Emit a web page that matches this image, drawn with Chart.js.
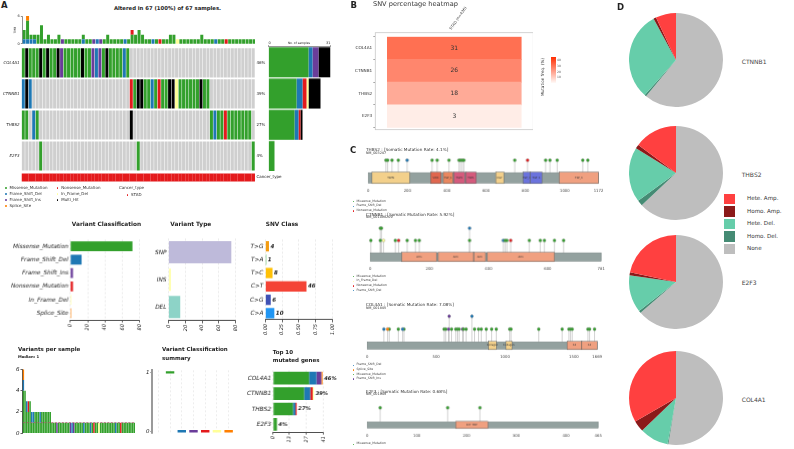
<!DOCTYPE html>
<html>
<head>
<meta charset="utf-8">
<title>Mutation overview</title>
<script src="https://cdn.jsdelivr.net/npm/chart.js@4.4.1/dist/chart.umd.min.js"></script>
<style>
  body { margin: 0; background: #fff; }
  #fig { position: relative; width: 794px; height: 449px; overflow: hidden; font-family: 'DejaVu Sans', sans-serif; color: #222; }
  #fig canvas { position: absolute; }
  .t { position: absolute; white-space: nowrap; line-height: 1; }
  .sq { position: absolute; }
</style>
</head>
<body>
<div id="fig"></div>
<script>
// ---------- data ----------
const genes = ['COL4A1', 'CTNNB1', 'THBS2', 'E2F3']
const genePct = ['46%', '39%', '27%', '4%']
const classNames = ['Missense_Mutation', 'Frame_Shift_Del', 'Frame_Shift_Ins', 'Nonsense_Mutation', 'In_Frame_Del', 'Splice_Site', 'Multi_Hit']
const classCodes = ['M', 'D', 'I', 'N', 'F', 'S', 'X']
const cancerType = 'STAD'

// oncoplot: one letter per sample, '.' = not mutated
const oncoRows = [
  'MXMMMXMXMMXIMMMMMXMMIDIMXMMMMDM' + '.'.repeat(36),
  'DXD' + '.'.repeat(28) + 'NMXXMMDMNMMXXFMMMMMMXMM' + '.'.repeat(13),
  'MM.DM' + '.'.repeat(26) + 'X' + '.'.repeat(22) + 'MDMMNMMMMMMM' + '.',
  '.'.repeat(5) + 'M' + '.'.repeat(27) + 'M' + '.'.repeat(32) + 'M'
]
// variants carried by each sample, same sample order as the oncoplot
const sampleVariants = [
  'DMM', 'DMMMMS', 'DM', 'DM', 'MM', 'MMMM', 'M', 'MM', 'M', 'M',
  'MM', 'I', 'M', 'M', 'M', 'M', 'M', 'DM', 'M', 'M',
  'I', 'D', 'I', 'M', 'MM', 'M', 'M', 'M', 'M', 'D',
  'M', 'MMN', 'MM', 'MMM', 'MM', 'M', 'M', 'D', 'M', 'N',
  'M', 'M', 'MM', 'MM', 'F', 'M', 'M', 'M', 'M', 'M',
  'M', 'MM', 'M', 'M', 'M', 'D', 'M', 'M', 'N', 'M',
  'M', 'M', 'M', 'M', 'M', 'M', 'M'
]

const vcCounts = [72, 13, 3, 3, 1, 1]
const vtLabels = ['SNP', 'INS', 'DEL']
const vtCounts = [75, 3, 14]
const snvLabels = ['T>G', 'T>A', 'T>C', 'C>T', 'C>G', 'C>A']
const snvCounts = [4, 1, 8, 46, 6, 10]

const topMissense = [29, 25, 16, 3]
const topFsDel = [6, 5, 2, 0]
const topFsIns = [4, 0, 0, 0]
const topNonsense = [0, 2, 1, 0]
const topInFrame = [0, 1, 0, 0]
const topSplice = [1, 0, 0, 0]
const topTicks = [0, 13, 27, 41]

const heatFreq = [31, 26, 18, 3]
const heatCohort = 'STAD (n=436)'

const thbs2Len = 1172
const thbs2Ticks = [0, 200, 400, 600, 800, 1000, 1172]
const thbs2Domains = [[19, 210, 'TSPN'], [317, 371, 'VWC'], [382, 431, 'TSP_1'], [436, 491, 'TSP1'], [496, 550, 'TSP1'], [649, 690, 'EGF'], [789, 823, 'TSP_3'], [826, 884, 'TSP_3'], [973, 1172, 'TSP_C']]
const thbs2Muts = [[90, 'M', 1], [99, 'M', 1], [121, 'M', 1], [153, 'M', 1], [198, 'D', 1], [325, 'M', 1], [351, 'M', 1], [411, 'M', 1], [462, 'M', 1], [470, 'M', 1], [479, 'M', 1], [487, 'M', 1], [746, 'M', 1], [811, 'N', 1], [903, 'M', 1], [925, 'M', 1], [962, 'M', 1], [1092, 'M', 1], [1118, 'M', 1]]

const ctnnb1Len = 781
const ctnnb1Ticks = [0, 200, 400, 600, 781]
const ctnnb1Domains = [[107, 224, 'Arm'], [230, 349, 'Arm'], [351, 390, 'Arm'], [396, 623, 'Arm']]
const ctnnb1Muts = [[2, 'M', 1], [34, 'M', 1], [34, 'M', 2], [38, 'M', 2], [45, 'F', 1], [85, 'M', 1], [96, 'N', 1], [125, 'M', 1], [153, 'M', 1], [166, 'M', 1], [336, 'M', 1], [336, 'D', 2], [450, 'D', 1], [456, 'M', 1], [462, 'M', 1], [475, 'N', 1], [538, 'M', 1], [575, 'M', 1], [589, 'M', 1], [623, 'M', 1], [654, 'M', 1]]

const col4a1Len = 1669
const col4a1Ticks = [0, 500, 1000, 1500, 1669]
const col4a1Domains = [[881, 937, 'Collagen'], [1007, 1051, 'Collagen'], [1451, 1558, 'C4'], [1558, 1669, 'C4']]
const col4a1Muts = [[121, 'D', 1], [148, 'S', 1], [160, 'M', 1], [226, 'M', 1], [257, 'D', 1], [267, 'M', 1], [558, 'M', 1], [570, 'M', 1], [590, 'I', 1], [595, 'I', 2], [612, 'M', 1], [643, 'M', 1], [655, 'M', 1], [667, 'M', 1], [692, 'I', 1], [699, 'M', 1], [718, 'M', 1], [760, 'D', 2], [779, 'M', 1], [808, 'M', 1], [828, 'M', 1], [864, 'M', 1], [903, 'M', 1], [937, 'M', 1], [1034, 'M', 1], [1044, 'M', 1], [1245, 'M', 1], [1415, 'M', 1], [1464, 'M', 1], [1476, 'M', 1], [1488, 'M', 1], [1602, 'M', 1], [1614, 'M', 1], [1650, 'M', 1]]

const e2f3Len = 465
const e2f3Ticks = [0, 100, 200, 300, 400, 465]
const e2f3Domains = [[178, 243, 'E2F_TDP']]
const e2f3Muts = [[26, 'M', 1], [162, 'M', 1], [227, 'M', 1]]

const lolliGenes = ['THBS2', 'CTNNB1', 'COL4A1', 'E2F3']
const lolliRates = ['4.1%', '5.92%', '7.08%', '0.68%']
const lolliRefseq = ['NM_003247', 'NM_001098209', 'NM_001845', 'NM_001949']

const cnvGenes = ['CTNNB1', 'THBS2', 'E2F3', 'COL4A1']
const cnvLabels = ['Hete. Amp.', 'Homo. Amp.', 'Hete. Del.', 'Homo. Del.', 'None']
const cnvHeteAmp = [7.0, 14.8, 21.7, 33.3]
const cnvHomoAmp = [0.9, 1.4, 1.0, 3.9]
const cnvHeteDel = [30.5, 18.9, 12.9, 9.9]
const cnvHomoDel = [0.6, 1.9, 0.8, 0.3]
const cnvNone = [61.0, 63.0, 63.6, 52.6]

// ---------- styles ----------
const classColors = ['#33a02c', '#1f78b4', '#6a3d9a', '#e31a1c', '#ffff99', '#ff7f00', '#000000']
const noneColor = '#cfcfcf'
const cancerColor = '#e41a1c'
const vtColors = ['#bebada', '#ffffb3', '#8dd3c7']
const snvColors = ['#f39c12', '#4caf50', '#ffc107', '#f44336', '#3f51b5', '#2196f3']
const cnvColors = ['#ff4040', '#8b1a1a', '#66cdaa', '#458b74', '#bebebe']
const domainColors = {TSPN: '#f3d08b', VWC: '#e0674f', TSP_1: '#e9875f', TSP1: '#d45a7c', EGF: '#f3d08b', TSP_3: '#6b73dd', TSP_C: '#f0a080', Arm: '#f0a080', Collagen: '#f3d08b', C4: '#f0a080', E2F_TDP: '#f0a080'}

Chart.defaults.font.family = "'DejaVu Sans', sans-serif"
Chart.defaults.color = '#222'
Chart.defaults.animation = false
Chart.defaults.responsive = false
Chart.defaults.maintainAspectRatio = false
Chart.defaults.events = []
Chart.defaults.plugins.legend.display = false
Chart.defaults.plugins.tooltip.enabled = false

const fig = document.getElementById('fig')

function label(str, x, y, size, o = {}) {
  const d = document.createElement('div')
  d.className = 't'
  d.textContent = str
  d.style.left = x + 'px'
  d.style.top = y + 'px'
  d.style.fontSize = size + 'px'
  if (o.bold) d.style.fontWeight = 'bold'
  if (o.italic) d.style.fontStyle = 'italic'
  if (o.color) d.style.color = o.color
  const shift = o.align === 'center' ? '-50%' : o.align === 'right' ? '-100%' : '0'
  d.style.transform = `translate(${shift},-50%)` + (o.rotate ? ` rotate(${o.rotate}deg)` : '')
  fig.appendChild(d)
}

function swatch(color, x, y, w, h, round) {
  const d = document.createElement('div')
  d.className = 'sq'
  Object.assign(d.style, {left: x + 'px', top: y + 'px', width: w + 'px', height: h + 'px', background: color, borderRadius: round ? '50%' : '0'})
  fig.appendChild(d)
}

// create a chart, then resize and move its canvas so the plot area lands on box
function chartAt(box, w, h, config) {
  config.options = config.options || {}
  config.options.devicePixelRatio = 1
  const c = document.createElement('canvas')
  c.width = w
  c.height = h
  c.style.width = w + 'px'
  c.style.height = h + 'px'
  fig.appendChild(c)
  const chart = new Chart(c, config)
  const [x0, y0, x1, y1] = box
  let a = chart.chartArea
  chart.resize(chart.width + (x1 - x0) - (a.right - a.left), chart.height + (y1 - y0) - (a.bottom - a.top))
  a = chart.chartArea
  c.style.left = (x0 - a.left) + 'px'
  c.style.top = (y0 - a.top) + 'px'
  return chart
}

function endText(labels, font, color, center) {
  return {
    id: 'endText',
    afterDatasetsDraw(chart) {
      const ctx = chart.ctx
      const meta = chart.getDatasetMeta(chart.data.datasets.length - 1)
      ctx.save()
      ctx.font = font
      ctx.fillStyle = color
      ctx.textBaseline = 'middle'
      ctx.textAlign = center ? 'center' : 'left'
      meta.data.forEach((bar, i) => {
        ctx.fillText(labels[i], center ? (bar.x + bar.base) / 2 : bar.x + 1.5, bar.y)
      })
      ctx.restore()
    }
  }
}

const countOf = (str, code) => str.split(code).length - 1
const median = arr => {
  const s = [...arr].sort((a, b) => a - b)
  return s.length % 2 ? s[(s.length - 1) / 2] : (s[s.length / 2 - 1] + s[s.length / 2]) / 2
}
const setTicks = values => s => { s.ticks = values.map(v => ({value: v})) }

const catAxis = (size, italic) => ({
  ticks: {font: {size, style: italic ? 'italic' : 'normal'}, padding: 2, autoSkip: false},
  grid: {display: false, drawTicks: false},
  border: {display: false}
})
const valueAxis = (max, ticks, fmt) => ({
  min: 0, max,
  afterBuildTicks: setTicks(ticks),
  ticks: {font: {size: 5, style: 'italic'}, minRotation: 90, maxRotation: 90, padding: 1.5, autoSkip: false, callback: fmt || (v => v)},
  grid: {color: '#dcdcdc', lineWidth: 0.6, tickColor: '#222', tickLength: 2.5, tickWidth: 0.7},
  border: {color: '#222', width: 0.8, dash: [2, 2]}
})

// ================= A: oncoplot =================
const sampleIds = sampleVariants.map((s, i) => 'S' + (i + 1))
const totals = sampleVariants.map(s => s.length)
label('A', 1, 4.5, 8.5, {bold: true})
const altered = sampleIds.filter((s, i) => oncoRows.some(r => r[i] !== '.')).length
label(`Altered in ${altered} (${Math.round(100 * altered / sampleIds.length)}%) of ${sampleIds.length} samples.`, 167.5, 8.7, 5.3, {bold: true, align: 'center'})

const tmbStack = [1, 2, 0, 3, 4, 5]
chartAt([22, 15.7, 255.5, 43.5], 260, 34, {
  type: 'bar',
  data: {
    labels: sampleIds,
    datasets: tmbStack.map(k => ({
      data: sampleVariants.map(s => countOf(s, classCodes[k])),
      backgroundColor: classColors[k], categoryPercentage: 0.86, barPercentage: 1
    }))
  },
  options: {
    scales: {
      x: {stacked: true, display: false},
      y: {
        stacked: true, min: 0, max: Math.max(...totals),
        afterBuildTicks: setTicks([0, Math.max(...totals)]),
        ticks: {font: {size: 3.5}, padding: 1},
        grid: {drawOnChartArea: false, tickLength: 1.5, color: '#222', lineWidth: 0.5},
        border: {color: '#222', width: 0.5},
        title: {display: true, text: 'TMB', font: {size: 3}, padding: 0}
      }
    }
  }
})

const nRows = genes.length
chartAt([22, 47, 255.5, 182], 300, 140, {
  type: 'bar',
  data: {
    labels: sampleIds,
    datasets: [
      ...oncoRows.map((row, i) => ({
        data: row.split('').map(() => [nRows - 1 - i + 0.03, nRows - i - 0.03]),
        backgroundColor: row.split('').map(c => c === '.' ? noneColor : classColors[classCodes.indexOf(c)]),
        grouped: false, categoryPercentage: 1, barPercentage: 0.86
      })),
      {
        data: sampleIds.map(() => [-0.32, -0.06]),
        backgroundColor: cancerColor, grouped: false, categoryPercentage: 1, barPercentage: 1.02
      }
    ]
  },
  options: {
    scales: {
      x: {display: false},
      y: {
        min: -0.35, max: nRows,
        afterBuildTicks: setTicks(genes.map((g, i) => nRows - i - 0.5)),
        ticks: {callback: (v, i) => genes[i], font: {size: 4, style: 'italic'}, padding: 2},
        grid: {display: false, drawTicks: false}, border: {display: false}
      },
      y2: {
        position: 'right', min: -0.35, max: nRows,
        afterBuildTicks: setTicks([...genes.map((g, i) => nRows - i - 0.5), -0.19]),
        ticks: {callback: (v, i) => [...genePct, 'Cancer_type'][i], font: {size: 4}, padding: 1.5},
        grid: {display: false, drawTicks: false}, border: {display: false}
      }
    }
  }
})

const geneCounts = classCodes.map(c => oncoRows.map(r => countOf(r, c)))
const maxMutated = Math.max(...oncoRows.map(r => r.length - countOf(r, '.')))
chartAt([268, 47, 330, 171], 70, 135, {
  type: 'bar',
  data: {
    labels: genes,
    datasets: classCodes.map((c, k) => ({data: geneCounts[k], backgroundColor: classColors[k], categoryPercentage: 0.96, barPercentage: 1}))
  },
  options: {
    indexAxis: 'y',
    scales: {
      y: {stacked: true, display: false},
      x: {
        stacked: true, position: 'top', min: 0, max: maxMutated,
        afterBuildTicks: setTicks([0, maxMutated]),
        ticks: {font: {size: 3.5}, padding: 0.5, align: 'inner'},
        grid: {drawOnChartArea: false, tickLength: 1.5, color: '#222', lineWidth: 0.5},
        border: {color: '#222', width: 0.5}
      }
    }
  }
})
label('No. of samples', 299, 42.7, 3, {align: 'center'})

// oncoplot legend
const legendCols = [[0, 1, 2, 5], [3, 4, 6]]
const legendX = [5, 56.7]
legendCols.forEach((col, j) => col.forEach((k, r) => {
  const y = 188.3 + r * 5.9
  swatch(classColors[k], legendX[j], y - 0.9, 1.8, 1.8, true)
  label(classNames[k], legendX[j] + 4.5, y, 4, {color: '#333'})
}))
label('Cancer_type', 119, 188.3, 4, {color: '#333'})
swatch(cancerColor, 126.5, 194.3, 1.8, 1.8, true)
label(cancerType, 131, 195.2, 4, {color: '#333'})

// ---- middle row ----
label('Variant Classification', 106.5, 225, 5.8, {bold: true, align: 'center'})
chartAt([70, 239.4, 138.5, 319], 150, 110, {
  type: 'bar',
  data: {labels: classNames.slice(0, 6), datasets: [{data: vcCounts, backgroundColor: classColors.slice(0, 6), categoryPercentage: 0.74, barPercentage: 1}]},
  options: {indexAxis: 'y', scales: {y: catAxis(5.8, true), x: valueAxis(80, [0, 20, 40, 60, 80])}}
})

label('Variant Type', 190.8, 225, 5.8, {bold: true, align: 'center'})
chartAt([169, 238.5, 236, 320], 110, 110, {
  type: 'bar',
  data: {labels: vtLabels, datasets: [{data: vtCounts, backgroundColor: vtColors, categoryPercentage: 0.81, barPercentage: 1}]},
  options: {indexAxis: 'y', scales: {y: catAxis(5.8, true), x: valueAxis(80, [0, 20, 40, 60, 80])}}
})

const snvTotal = snvCounts.reduce((a, b) => a + b, 0)
label('SNV Class', 282, 225, 5.8, {bold: true, align: 'center'})
chartAt([265, 239.5, 332, 319], 95, 110, {
  type: 'bar',
  data: {labels: snvLabels, datasets: [{data: snvCounts.map(v => v / snvTotal), backgroundColor: snvColors, categoryPercentage: 0.78, barPercentage: 1}]},
  options: {indexAxis: 'y', scales: {y: catAxis(5.8, true), x: valueAxis(1, [0, 0.25, 0.5, 0.75, 1], v => v.toFixed(2))}},
  plugins: [endText(snvCounts.map(String), "italic bold 5.5px 'DejaVu Sans'", '#222')]
})

// ---- bottom row ----
const sorted = [...sampleVariants].sort((a, b) => b.length - a.length)
const medianTotal = median(totals)
label('Variants per sample', 18, 350, 5.5, {bold: true})
label('Median: ' + medianTotal, 18, 357.3, 3.8, {bold: true})
const vpsStack = [0, 1, 2, 3, 4, 5]
chartAt([22, 369, 135, 433], 140, 75, {
  type: 'bar',
  data: {
    labels: sorted.map((s, i) => i + 1),
    datasets: [
      {type: 'line', data: sorted.map(() => medianTotal), borderColor: '#b5506f', borderWidth: 0.8, borderDash: [2, 1.5], pointRadius: 0, stack: 'median', order: -1},
      ...vpsStack.map(k => ({
        data: sorted.map(s => countOf(s, classCodes[k])),
        backgroundColor: classColors[k], categoryPercentage: 0.9, barPercentage: 1
      }))
    ]
  },
  options: {
    scales: {
      x: {stacked: true, display: false},
      y: {
        stacked: true, min: 0, max: Math.max(...totals),
        afterBuildTicks: setTicks([0, 2, 4, 6]),
        ticks: {font: {size: 5.5, style: 'italic'}, padding: 1},
        grid: {drawOnChartArea: false, tickLength: 2, color: '#222', lineWidth: 0.7},
        border: {color: '#222', width: 0.8}
      }
    }
  }
})

label('Variant Classification', 162, 350, 5.5, {bold: true})
label('summary', 162, 358.5, 5.5, {bold: true})
// per-class median of variants per sample; the leading blank slot keeps the boxes clear of the axis
const classMedians = classCodes.slice(0, 6).map(c => median(sampleVariants.map(s => countOf(s, c))))
chartAt([152, 370, 234, 433], 110, 70, {
  type: 'bar',
  data: {
    labels: ['', ...classNames.slice(0, 6)],
    datasets: [{data: [null, ...classMedians.map(m => [m - 0.02, m + 0.02])], backgroundColor: ['#fff', ...classColors.slice(0, 6)], categoryPercentage: 0.8, barPercentage: 0.9}]
  },
  options: {
    scales: {
      x: {
        ticks: {display: false},
        grid: {color: '#e2e2e2', lineWidth: 0.6, drawTicks: false, offset: false},
        border: {display: false, dash: [2, 2]}
      },
      y: {
        min: -0.034, max: 1.034,
        afterBuildTicks: setTicks([0, 1]),
        ticks: {font: {size: 5.5, style: 'italic'}, padding: 1},
        grid: {drawOnChartArea: false, tickLength: 2, color: '#222', lineWidth: 0.7},
        border: {color: '#9a9a9a', width: 2}
      }
    }
  }
})

label('Top 10', 272.7, 352.7, 5.5, {bold: true})
label('mutated genes', 272.7, 361, 5.5, {bold: true})
const topSets = [topMissense, topFsDel, topFsIns, topNonsense, topInFrame, topSplice]
chartAt([272.7, 370.3, 322.7, 432], 95, 80, {
  type: 'bar',
  data: {labels: genes, datasets: topSets.map((d, k) => ({data: d, backgroundColor: classColors[k], categoryPercentage: 0.82, barPercentage: 1}))},
  options: {
    indexAxis: 'y',
    layout: {padding: {right: 14}},
    scales: {
      y: {stacked: true, ...catAxis(5.8, true)},
      x: {stacked: true, ...valueAxis(41, topTicks)}
    }
  },
  plugins: [endText(genePct, "italic bold 5.2px 'DejaVu Sans'", '#222')]
})

// ================= B: SNV heatmap =================
label('B', 350.5, 5, 8.5, {bold: true})
label('SNV percentage heatmap', 373, 4.3, 6.6, {color: '#333'})
const heatColor = v => `rgb(255,${Math.round(250 - 4.46 * v)},${Math.round(247 - 5.32 * v)})`
chartAt([375, 37, 533, 128], 190, 130, {
  type: 'bar',
  data: {labels: genes, datasets: [{data: heatFreq.map(() => 1), backgroundColor: heatFreq.map(heatColor), categoryPercentage: 1, barPercentage: 1}]},
  options: {
    indexAxis: 'y',
    scales: {
      y: {
        ticks: {font: {size: 4.2}, color: '#333', padding: 1},
        grid: {drawOnChartArea: false, tickLength: 2, color: '#555', lineWidth: 0.5},
        border: {display: false}
      },
      x: {
        position: 'top', min: -0.09, max: 1.09,
        afterBuildTicks: setTicks([0.5]),
        ticks: {callback: () => heatCohort, font: {size: 3.8}, color: '#333', minRotation: 55, maxRotation: 55, padding: 6},
        grid: {drawOnChartArea: false, drawTicks: false},
        border: {display: false}
      }
    }
  },
  plugins: [
    endText(heatFreq.map(String), "6px 'DejaVu Sans'", '#333', true),
    {
      id: 'frame',
      beforeDraw(chart) {
        const {ctx, chartArea: a} = chart
        ctx.save()
        ctx.strokeStyle = '#c8c8c8'
        ctx.lineWidth = 0.8
        ctx.strokeRect(a.left, a.top - 4, a.right - a.left, a.bottom - a.top + 6)
        ctx.restore()
      }
    }
  ]
})
// colour bar
const bar = document.createElement('div')
Object.assign(bar.style, {position: 'absolute', left: '551px', top: '57px', width: '4.5px', height: '26px', background: `linear-gradient(to top, ${heatColor(0)}, ${heatColor(46)})`})
fig.appendChild(bar)
;[10, 20, 30, 40].forEach(v => label(String(v), 557, 83 - v / 46 * 26, 3, {color: '#555'}))
label('Mutation freq. (%)', 543, 77, 4.2, {align: 'center', rotate: -90, color: '#333'})

// ================= C: lollipops =================
label('C', 350, 150, 8.5, {bold: true})

function proteinPainter(len, domains, muts) {
  return {
    id: 'protein',
    beforeDatasetsDraw(chart) {
      const {ctx, scales: {x, y}} = chart
      const y0 = y.getPixelForValue(0)
      const y1 = y.getPixelForValue(y.min)
      ctx.save()
      ctx.strokeStyle = '#b3b3b3'
      ctx.lineWidth = 0.6
      muts.forEach(m => {
        const px = x.getPixelForValue(m[0])
        ctx.beginPath()
        ctx.moveTo(px, y0)
        ctx.lineTo(px, y.getPixelForValue(m[2]))
        ctx.stroke()
      })
      const bx0 = x.getPixelForValue(0)
      const bx1 = x.getPixelForValue(len)
      ctx.fillStyle = '#93a19f'
      ctx.fillRect(bx0, y0, bx1 - bx0, y1 - y0)
      ctx.strokeStyle = '#6f7c7a'
      ctx.lineWidth = 0.5
      ctx.strokeRect(bx0, y0, bx1 - bx0, y1 - y0)
      domains.forEach(d => {
        const dx0 = x.getPixelForValue(d[0])
        const dx1 = x.getPixelForValue(d[1])
        ctx.fillStyle = domainColors[d[2]]
        ctx.fillRect(dx0, y0 - 0.5, dx1 - dx0, y1 - y0 + 1)
        ctx.strokeStyle = '#555'
        ctx.lineWidth = 0.4
        ctx.strokeRect(dx0, y0 - 0.5, dx1 - dx0, y1 - y0 + 1)
        ctx.fillStyle = '#333'
        ctx.font = "2.6px 'DejaVu Sans'"
        ctx.textAlign = 'center'
        ctx.textBaseline = 'middle'
        ctx.fillText(d[2], (dx0 + dx1) / 2, (y0 + y1) / 2)
      })
      ctx.restore()
    }
  }
}

function lollipop(box, len, ticks, domains, muts, yMin, yMax) {
  const codes = [...new Set(muts.map(m => m[1]))]
  chartAt(box, 250, 50, {
    type: 'scatter',
    data: {
      datasets: codes.map(c => ({
        label: classNames[classCodes.indexOf(c)],
        data: muts.filter(m => m[1] === c).map(m => ({x: m[0], y: m[2]})),
        backgroundColor: classColors[classCodes.indexOf(c)], borderColor: '#777', borderWidth: 0.3,
        pointRadius: 1.5, clip: false
      }))
    },
    options: {
      scales: {
        x: {
          type: 'linear', min: 0, max: len,
          afterBuildTicks: setTicks(ticks),
          ticks: {font: {size: 3.8}, color: '#444', padding: 5, autoSkip: false, maxRotation: 0, callback: v => Number(v).toFixed(0)},
          grid: {display: false, drawTicks: false}, border: {display: false}
        },
        y: {display: false, min: yMin, max: yMax}
      }
    },
    plugins: [proteinPainter(len, domains, muts)]
  })
  return codes
}

function lolliText(i, titleY, legendY, codes) {
  label(`${lolliGenes[i]} : [Somatic Mutation Rate: ${lolliRates[i]}]`, 366, titleY, 4.2, {color: '#333'})
  label(lolliRefseq[i], 366, titleY + 3.6, 3.4, {color: '#333'})
  codes.forEach((c, j) => {
    const y = legendY + j * 4.65
    swatch(classColors[classCodes.indexOf(c)], 352.5, y - 0.8, 1.6, 1.6, true)
    label(classNames[classCodes.indexOf(c)], 356.5, y, 3.1, {color: '#444'})
  })
}

lolliText(0, 150, 201.7, lollipop([368.7, 156, 598, 182], thbs2Len, thbs2Ticks, thbs2Domains, thbs2Muts, -0.83, 1.3))
lolliText(1, 214.5, 276.7, lollipop([370, 224, 600, 260], ctnnb1Len, ctnnb1Ticks, ctnnb1Domains, ctnnb1Muts, -0.67, 2.3))
lolliText(2, 305, 365.3, lollipop([367, 312, 597, 348], col4a1Len, col4a1Ticks, col4a1Domains, col4a1Muts, -0.56, 2.3))
lolliText(3, 391.7, 444.3, lollipop([367, 403, 597, 427], e2f3Len, e2f3Ticks, e2f3Domains, e2f3Muts, -0.43, 1.3))

// ================= D: CNV pies =================
label('D', 617, 6.7, 8.5, {bold: true})
const pieCentres = [60, 173.3, 281.7, 398.3]
cnvGenes.forEach((g, i) => {
  const cy = pieCentres[i]
  chartAt([629, cy - 47, 723, cy + 47], 94, 94, {
    type: 'pie',
    data: {
      labels: [cnvLabels[4], cnvLabels[3], cnvLabels[2], cnvLabels[1], cnvLabels[0]],
      datasets: [{
        data: [cnvNone[i], cnvHomoDel[i], cnvHeteDel[i], cnvHomoAmp[i], cnvHeteAmp[i]],
        backgroundColor: [cnvColors[4], cnvColors[3], cnvColors[2], cnvColors[1], cnvColors[0]],
        borderWidth: 0
      }]
    }
  })
  label(g, 741.7, cy + 1.5, 6, {color: '#444'})
})
cnvLabels.forEach((l, k) => {
  const y = 199 + k * 12.5
  swatch(cnvColors[k], 724, y - 5.3, 10.6, 10.6)
  label(l, 747, y, 5.6, {color: '#333'})
})
</script>
</body>
</html>
